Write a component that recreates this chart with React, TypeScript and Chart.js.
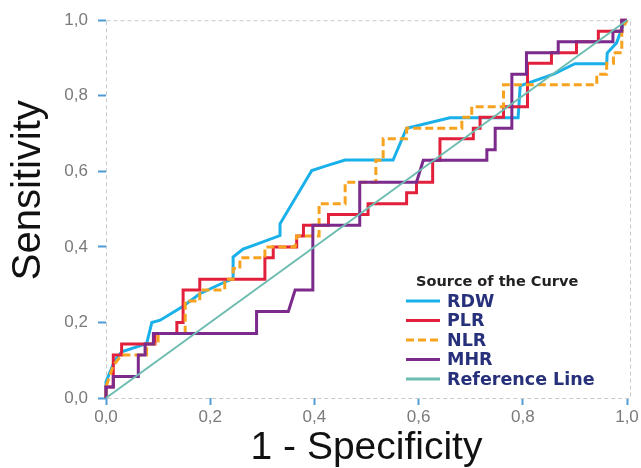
import React, { useEffect, useRef } from 'react';
import { Chart, registerables } from 'chart.js';

Chart.register(...registerables);

// ---- data ----
const seriesNames = ['RDW', 'PLR', 'NLR', 'MHR', 'Reference Line'];
const yAxisTitle = 'Sensitivity';
const xAxisTitle = '1 - Specificity';
const legendTitle = 'Source of the Curve';

const rdwX = [0, 0, 0.017, 0.030, 0.078, 0.088, 0.104, 0.148, 0.18, 0.228, 0.244, 0.244, 0.263, 0.283, 0.334, 0.334, 0.395, 0.424, 0.459, 0.551, 0.577, 0.66, 0.791, 0.795, 0.859, 0.90, 0.961, 0.962, 0.98, 0.993, 1];
const rdwY = [0, 0.043, 0.1, 0.122, 0.144, 0.2, 0.206, 0.243, 0.276, 0.307, 0.316, 0.373, 0.394, 0.404, 0.43, 0.461, 0.602, 0.615, 0.63, 0.63, 0.714, 0.742, 0.742, 0.826, 0.857, 0.885, 0.885, 0.913, 0.94, 0.989, 1];

const plrX = [0, 0, 0.014, 0.014, 0.030, 0.030, 0.094, 0.094, 0.136, 0.136, 0.148, 0.148, 0.18, 0.18, 0.305, 0.305, 0.321, 0.321, 0.366, 0.366, 0.379, 0.379, 0.427, 0.427, 0.503, 0.503, 0.577, 0.577, 0.596, 0.596, 0.627, 0.627, 0.641, 0.641, 0.705, 0.705, 0.718, 0.718, 0.763, 0.763, 0.809, 0.809, 0.855, 0.855, 0.903, 0.903, 0.945, 0.945, 0.99, 0.99, 1];
const plrY = [0, 0.029, 0.029, 0.114, 0.114, 0.143, 0.143, 0.171, 0.171, 0.2, 0.2, 0.286, 0.286, 0.314, 0.314, 0.371, 0.371, 0.4, 0.4, 0.429, 0.429, 0.457, 0.457, 0.486, 0.486, 0.514, 0.514, 0.543, 0.543, 0.571, 0.571, 0.629, 0.629, 0.686, 0.686, 0.714, 0.714, 0.743, 0.743, 0.771, 0.771, 0.886, 0.886, 0.914, 0.914, 0.943, 0.943, 0.971, 0.971, 1, 1];

const nlrX = [0, 0, 0.014, 0.03, 0.078, 0.078, 0.1, 0.1, 0.152, 0.152, 0.18, 0.18, 0.228, 0.228, 0.244, 0.244, 0.257, 0.257, 0.305, 0.305, 0.363, 0.366, 0.409, 0.409, 0.459, 0.459, 0.518, 0.518, 0.532, 0.532, 0.577, 0.577, 0.683, 0.683, 0.702, 0.702, 0.763, 0.763, 0.942, 0.942, 0.961, 0.961, 0.974, 0.974, 0.99, 0.99, 1];
const nlrY = [0, 0.03, 0.086, 0.114, 0.114, 0.143, 0.143, 0.171, 0.171, 0.257, 0.257, 0.286, 0.286, 0.314, 0.314, 0.343, 0.343, 0.371, 0.371, 0.4, 0.4, 0.429, 0.429, 0.514, 0.514, 0.571, 0.571, 0.629, 0.629, 0.686, 0.686, 0.714, 0.714, 0.743, 0.743, 0.771, 0.771, 0.829, 0.829, 0.857, 0.857, 0.886, 0.886, 0.914, 0.914, 0.971, 1];

const mhrX = [0, 0, 0.014, 0.014, 0.062, 0.062, 0.075, 0.075, 0.091, 0.091, 0.289, 0.289, 0.35, 0.363, 0.397, 0.397, 0.487, 0.487, 0.596, 0.609, 0.731, 0.731, 0.747, 0.747, 0.779, 0.779, 0.807, 0.807, 0.868, 0.868, 0.973, 0.973, 0.99, 0.99, 1];
const mhrY = [0, 0.029, 0.029, 0.057, 0.057, 0.114, 0.114, 0.143, 0.143, 0.171, 0.171, 0.229, 0.229, 0.286, 0.286, 0.457, 0.457, 0.571, 0.571, 0.629, 0.629, 0.657, 0.657, 0.714, 0.714, 0.857, 0.857, 0.914, 0.914, 0.943, 0.943, 0.971, 0.971, 1, 1];

const refX = [0, 1];
const refY = [0, 1];

const tickValues = [0, 0.2, 0.4, 0.6, 0.8, 1];
const xTickLabels = ['0,0', '0,2', '0,4', '0,6', '0,8', '1,0'];
const yTickLabels = ['0,0', '0,2', '0,4', '0,6', '0,8', '1,0'];

const colors = ['#1ab0ea', '#e2203c', '#f8a31f', '#7c2a8b', '#6dbcb0'];

const toPts = (xs: number[], ys: number[]) => xs.map((x, i) => ({ x, y: ys[i] }));

const framePlugin = {
  id: 'dashedFrame',
  beforeDatasetsDraw(chart: any) {
    const { ctx, chartArea: a } = chart;
    ctx.save();
    ctx.strokeStyle = '#c9c9c9';
    ctx.lineWidth = 1;
    ctx.setLineDash([4, 3]);
    ctx.strokeRect(a.left + 0.5, a.top + 0.5, a.right - a.left + 3, a.bottom - a.top);
    ctx.restore();
  },
};

const yTitlePlugin = {
  id: 'yTitle',
  afterDraw(chart: any) {
    const { ctx, chartArea: a } = chart;
    ctx.save();
    ctx.translate(29, a.top + 170);
    ctx.rotate(-Math.PI / 2);
    ctx.textAlign = 'center';
    ctx.textBaseline = 'middle';
    ctx.fillStyle = '#111111';
    ctx.font = '40px "Liberation Sans", Arial';
    ctx.fillText(yAxisTitle, 0, 0);
    ctx.restore();
  },
};

const legendPlugin = {
  id: 'rocLegend',
  afterDraw(chart: any) {
    const { ctx, chartArea: a } = chart;
    const x0 = a.right - 221;
    const yTitle = a.bottom - 116;
    ctx.save();
    ctx.textBaseline = 'middle';
    ctx.textAlign = 'left';
    ctx.fillStyle = '#222222';
    ctx.font = 'bold 14.5px "DejaVu Sans"';
    ctx.fillText(legendTitle, x0 + 10, yTitle);
    chart.data.datasets.forEach((ds: any, i: number) => {
      const y = yTitle + 19 + i * 19.5;
      ctx.strokeStyle = ds.borderColor;
      ctx.lineWidth = 3;
      ctx.setLineDash(ds.borderDash || []);
      ctx.beginPath();
      ctx.moveTo(x0, y);
      ctx.lineTo(x0 + 34, y);
      ctx.stroke();
      ctx.setLineDash([]);
      ctx.fillStyle = '#27307a';
      ctx.font = 'bold 17.5px "DejaVu Sans"';
      ctx.fillText(ds.label, x0 + 41, y + 1);
    });
    ctx.restore();
  },
};

export default function App() {
  const canvasRef = useRef<HTMLCanvasElement | null>(null);

  useEffect(() => {
    if (!canvasRef.current) return;
    const xs = [rdwX, plrX, nlrX, mhrX, refX];
    const ys = [rdwY, plrY, nlrY, mhrY, refY];
    const orders = [4, 3, 2, 1, 0];
    const datasets = seriesNames.map((name, i) => ({
      label: name,
      data: toPts(xs[i], ys[i]),
      borderColor: colors[i],
      backgroundColor: colors[i],
      borderWidth: i === 4 ? 2 : 3,
      borderDash: i === 2 ? [8, 4] : undefined,
      showLine: true,
      pointRadius: 0,
      tension: 0,
      fill: false,
      order: orders[i],
      clip: false as any,
    }));

    const chart = new Chart(canvasRef.current, {
      type: 'scatter',
      data: { datasets },
      plugins: [framePlugin, yTitlePlugin, legendPlugin],
      options: {
        animation: false,
        responsive: true,
        maintainAspectRatio: false,
        layout: { padding: { top: 19, right: 14, left: 0, bottom: 0 } },
        plugins: { legend: { display: false }, tooltip: { enabled: false } },
        scales: {
          x: {
            type: 'linear',
            min: 0,
            max: 1,
            afterFit: (s: any) => { s.height = 70; },
            afterBuildTicks: (s: any) => { s.ticks = tickValues.map((v) => ({ value: v })); },
            border: { display: false },
            grid: { drawOnChartArea: false, drawTicks: true, tickLength: 7, tickWidth: 2, tickColor: '#4f9bd3' },
            ticks: {
              padding: 2,
              color: '#7a7a7a',
              font: { family: 'Liberation Sans, Arial', size: 17 },
              callback: (_v: any, i: number) => xTickLabels[i],
            },
            title: {
              display: true,
              text: xAxisTitle,
              color: '#111111',
              font: { family: 'Liberation Sans, Arial', size: 39, lineHeight: 1 },
              padding: { top: 0, bottom: 0 },
            },
          },
          y: {
            type: 'linear',
            min: 0,
            max: 1,
            afterFit: (s: any) => { s.width = 106; },
            afterBuildTicks: (s: any) => { s.ticks = tickValues.map((v) => ({ value: v })); },
            border: { display: false },
            grid: { drawOnChartArea: false, drawTicks: true, tickLength: 8, tickWidth: 2, tickColor: '#4f9bd3' },
            ticks: {
              padding: 10,
              color: '#7a7a7a',
              font: { family: 'Liberation Sans, Arial', size: 17 },
              callback: (_v: any, i: number) => yTickLabels[i],
            },
            title: { display: false },
          },
        },
      } as any,
    });
    return () => chart.destroy();
  }, []);

  return (
    <div style={{ position: 'absolute', left: 0, top: 0, width: 641, height: 468, background: '#ffffff' }}>
      <canvas ref={canvasRef} />
    </div>
  );
}
